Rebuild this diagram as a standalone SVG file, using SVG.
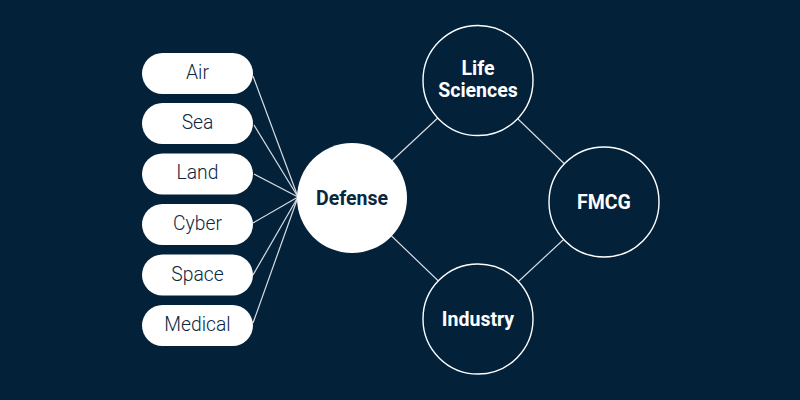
<svg xmlns="http://www.w3.org/2000/svg" width="800" height="400" viewBox="0 0 800 400">
<style>
.pill{fill:#ffffff}
.pt{font-family:Roboto,"Liberation Sans",sans-serif;font-weight:300;font-size:19.3px;fill:#0b2740;text-anchor:middle}
.ct{font-family:Roboto,"Liberation Sans",sans-serif;font-weight:700;font-size:19.5px;text-anchor:middle}
.ring{fill:#03223a;stroke:#ffffff;stroke-width:1.4}
.ln{stroke:#d9dde2;stroke-width:1.2;fill:none}
</style>
<rect width="800" height="400" fill="#03223a"/>
<g id="connectors">
<line class="ln" x1="253" y1="76" x2="298" y2="197"/>
<line class="ln" x1="254" y1="125" x2="298" y2="197"/>
<line class="ln" x1="254" y1="174" x2="298" y2="197"/>
<line class="ln" x1="253" y1="223" x2="298" y2="197"/>
<line class="ln" x1="253" y1="275" x2="298" y2="197"/>
<line class="ln" x1="253" y1="323" x2="298" y2="197"/>
<line class="ln" x1="352" y1="198" x2="478" y2="80.5"/>
<line class="ln" x1="478" y1="80.5" x2="604" y2="202"/>
<line class="ln" x1="604" y1="202" x2="478" y2="319"/>
<line class="ln" x1="478" y1="319" x2="352" y2="198"/>
</g>
<g id="air"><rect class="pill" x="142" y="53" width="111" height="41" rx="20.5"/><text class="pt" x="197.5" y="78.7">Air</text></g>
<g id="sea"><rect class="pill" x="142" y="103" width="111" height="41" rx="20.5"/><text class="pt" x="197.5" y="128.7">Sea</text></g>
<g id="land"><rect class="pill" x="142" y="153.5" width="111" height="41" rx="20.5"/><text class="pt" x="197.5" y="179.2">Land</text></g>
<g id="cyber"><rect class="pill" x="142" y="204" width="111" height="41" rx="20.5"/><text class="pt" x="197.5" y="229.7">Cyber</text></g>
<g id="space"><rect class="pill" x="142" y="254.5" width="111" height="41" rx="20.5"/><text class="pt" x="197.5" y="280.5">Space</text></g>
<g id="medical"><rect class="pill" x="142" y="305" width="111" height="41" rx="20.5"/><text class="pt" x="197.5" y="331">Medical</text></g>
<g id="defense"><circle cx="352" cy="198" r="55" fill="#ffffff"/><text class="ct" x="352" y="205" fill="#0b2740">Defense</text></g>
<g id="life-sciences"><circle class="ring" cx="478" cy="80.5" r="55"/><text class="ct" x="478" y="75" fill="#ffffff">Life</text><text class="ct" x="478" y="96.5" fill="#ffffff">Sciences</text></g>
<g id="fmcg"><circle class="ring" cx="604" cy="202" r="55"/><text class="ct" x="604" y="208.5" fill="#ffffff">FMCG</text></g>
<g id="industry"><circle class="ring" cx="478" cy="319" r="55"/><text class="ct" x="478" y="325.5" fill="#ffffff">Industry</text></g>
</svg>
